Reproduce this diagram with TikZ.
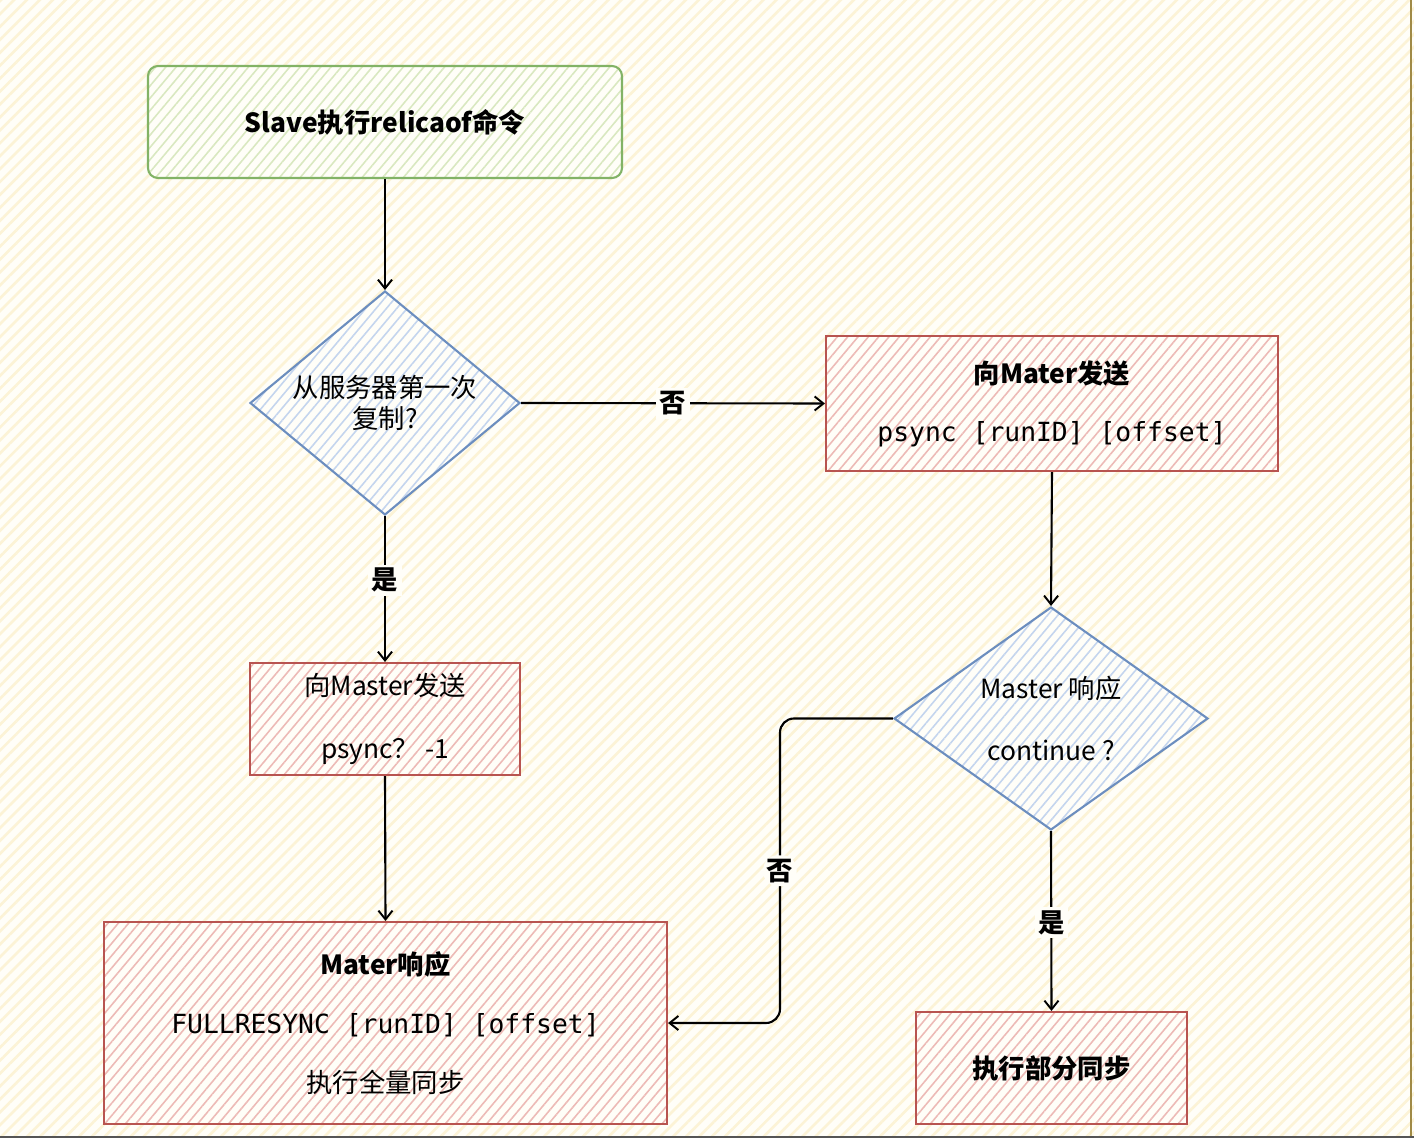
\documentclass[tikz,border=0pt]{standalone}
\usepackage{fontspec}
\setmainfont{Noto Sans CJK SC}
\newfontfamily\monof{DejaVu Sans Mono}
\usetikzlibrary{shapes.geometric,arrows.meta,patterns.meta}
\definecolor{bgc}{HTML}{FFFEF8}
\definecolor{bgline}{HTML}{FCF3D6}
\definecolor{gstroke}{HTML}{82B366}
\definecolor{ghatch}{HTML}{D9E8C0}
\definecolor{bstroke}{HTML}{6C8EBF}
\definecolor{bhatch}{HTML}{C4D5EE}
\definecolor{rstroke}{HTML}{B85450}
\definecolor{rhatch}{HTML}{EDBAB6}
\def\pxu{0.02cm}
\tikzset{
  x=0.02cm, y=-0.02cm,
  txt/.style={font=\fontsize{15}{18}\selectfont, align=center, text=black},
  boxbase/.style={txt, draw, line width=1.2pt, inner sep=0pt,
    preaction={fill=bgc}},
  greenbox/.style={boxbase, draw=gstroke, rounded corners=10*\pxu,
    pattern={Lines[angle=50,distance=4.5pt,line width=0.9pt]}, pattern color=ghatch},
  redbox/.style={boxbase, draw=rstroke,
    pattern={Lines[angle=50,distance=4.5pt,line width=0.9pt]}, pattern color=rhatch},
  bluedia/.style={boxbase, draw=bstroke, shape=diamond,
    pattern={Lines[angle=50,distance=4.5pt,line width=0.9pt]}, pattern color=bhatch},
  conn/.style={draw=black, line width=1.2pt, -{Straight Barb[length=5pt,width=8pt,line width=1.1pt]}},
  lab/.style={font=\fontsize{15}{18}\selectfont\bfseries, fill=bgc, inner sep=2pt, text=black},
  mono/.style={font=\fontsize{15}{18}\selectfont\monof}
}
\begin{document}
\begin{tikzpicture}
\useasboundingbox (0,0) rectangle (1414,1138);
\fill[bgc] (0,0) rectangle (1414,1138);
\fill[pattern={Lines[angle=45,distance=5.2pt,line width=1.5pt]}, pattern color=bgline] (0,0) rectangle (1414,1138);
\draw[line width=1.2pt, draw={rgb,255:red,160;green,138;blue,70}] (1411,0) -- (1411,1136);
\draw[line width=1.4pt, draw={rgb,255:red,85;green,85;blue,85}] (0,1137) -- (1414,1137);

\node[greenbox, minimum width=474*\pxu, minimum height=112*\pxu] (start) at (385,122)
  {\bfseries Slave执行relicaof命令};

\node[bluedia, aspect=1.205, minimum width=270*\pxu, minimum height=224*\pxu] (d1) at (385,403)
  {从服务器第一次\\复制?};

\node[redbox, minimum width=452*\pxu, minimum height=135*\pxu] (psr) at (1052,403.5)
  {\bfseries 向Mater发送\\[15pt]{\monof psync [runID] [offset]}};

\node[bluedia, aspect=1.41, minimum width=314*\pxu, minimum height=223*\pxu] (d2) at (1051,718.5)
  {Master 响应\\[17.7pt]continue ?};

\node[redbox, minimum width=270*\pxu, minimum height=112*\pxu] (psm) at (385,719)
  {向Master发送\\[17.7pt]psync？ -1};

\node[redbox, minimum width=563*\pxu, minimum height=202*\pxu] (full) at (385.5,1023)
  {{\bfseries Mater响应}\\[15.4pt]{\monof FULLRESYNC [runID] [offset]}\\[15.4pt]执行全量同步};

\node[redbox, minimum width=271*\pxu, minimum height=112*\pxu] (part) at (1051.5,1068)
  {\bfseries 执行部分同步};

\draw[conn] (start.south) -- (d1.north);
\draw[conn] (d1.east) -- node[lab] (l1) {否} (psr.west);
\draw[conn] (d1.south) -- node[lab, pos=0.44] (l2) {是} (psm.north);
\draw[conn] (psr.south) -- (d2.north);
\draw[conn] (psm.south) -- (full.north);
\coordinate (bend) at (780,718.5);
\draw[conn, rounded corners=14*\pxu] (d2.west) -- (bend) |- node[lab, pos=0.25] (l3) {否} (full.east);
\draw[conn] (d2.south) -- node[lab, pos=0.51] (l4) {是} (part.north);
\end{tikzpicture}
\end{document}
